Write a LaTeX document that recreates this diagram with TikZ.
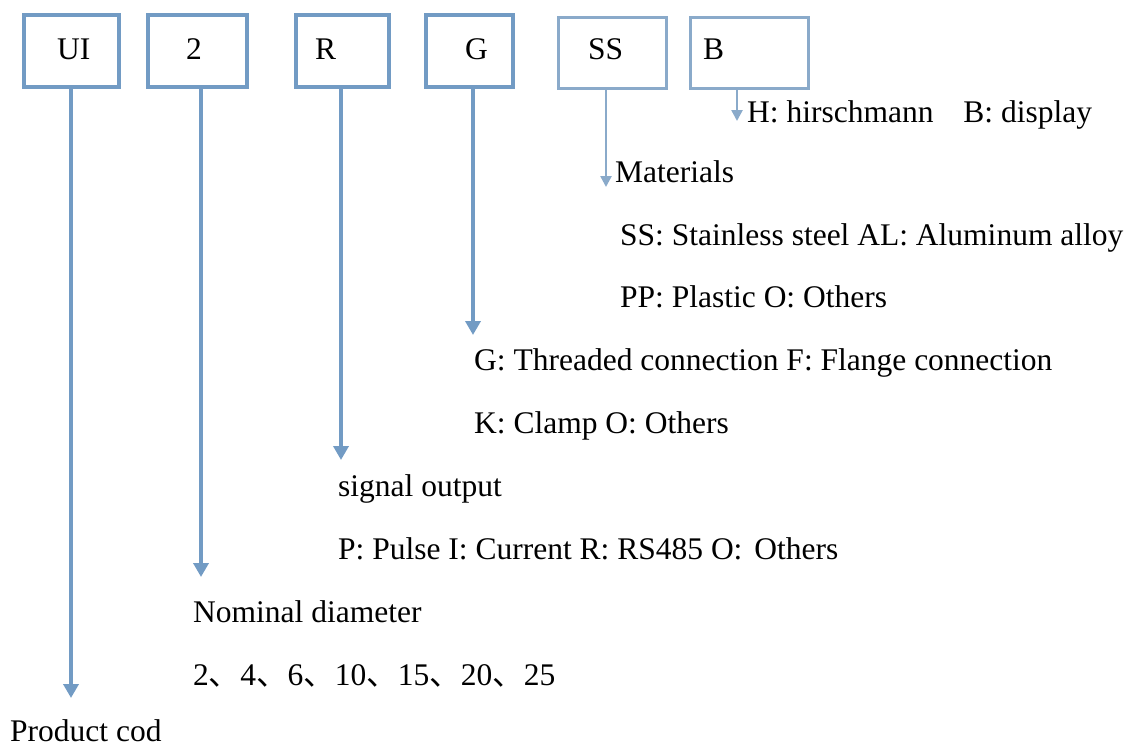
\documentclass[tikz,border=0pt]{standalone}
\usepackage{fontspec}
\setmainfont{Liberation Serif}
\newfontfamily\cjk{Noto Sans CJK SC}
\usetikzlibrary{arrows.meta,positioning}

\definecolor{codeblue}{RGB}{114,155,196}
\definecolor{codelight}{RGB}{138,170,202}

\tikzset{
  codebox/.style={draw=codeblue, line width=4pt, minimum height=72pt},
  lightbox/.style={draw=codelight, line width=3pt, minimum height=71pt},
  flow/.style={codeblue, line width=4pt, -{Triangle[width=15pt,length=14pt]}},
  thinflow/.style={codelight, line width=2.5pt, -{Triangle[width=11pt,length=11pt]}},
  txt/.style={anchor=base west, inner sep=0pt, font=\fontsize{31.5}{36}\selectfont}
}

\begin{document}
\begin{tikzpicture}[x=1pt, y=-1pt]
    \useasboundingbox (0,0) rectangle (1135,747);

    % CODE BOXES
    \node[codebox, minimum width=95pt] (uibox) at (71.5,51) {};
    \node[codebox, minimum width=99pt] (dnbox) at (197.5,51) {};
    \node[codebox, minimum width=93pt] (sigbox) at (342.5,51) {};
    \node[codebox, minimum width=87pt] (conbox) at (469.5,51) {};
    \node[lightbox, minimum width=108pt] (matbox) at (612.5,53) {};
    \node[lightbox, minimum width=118pt] (dispbox) at (749.5,53) {};

    \node[txt] (uitxt) at (57,59) {UI};
    \node[txt] (dntxt) at (186,59) {2};
    \node[txt] (sigtxt) at (315,59) {R};
    \node[txt] (contxt) at (465,59) {G};
    \node[txt] (mattxt) at (588,59) {SS};
    \node[txt] (disptxt) at (703,59) {B};

    % OPTION TEXTS
    \node[txt] (disp) at (747,122) {H: hirschmann\hspace{22pt} B: display};
    \node[txt] (mat) at (615,182) {Materials};
    \node[txt] (matA) at (620,245) {SS: Stainless steel AL: Aluminum alloy};
    \node[txt] (matB) at (620,307) {PP: Plastic O: Others};
    \node[txt] (conA) at (474,370) {G: Threaded connection F: Flange connection};
    \node[txt] (conB) at (474,433) {K: Clamp O: Others};
    \node[txt] (sig) at (338,496) {signal output};
    \node[txt] (sigA) at (338,559) {P: Pulse I: Current R: RS485 O:\hspace{4pt} Others};
    \node[txt] (dn) at (193,622) {Nominal diameter};
    \node[txt] (dnA) at (193,685) {2{\cjk 、}4{\cjk 、}6{\cjk 、}10{\cjk 、}15{\cjk 、}20{\cjk 、}25};
    \node[txt] (prod) at (10,741) {Product cod};

    % ARROW ENDS
    \coordinate (uiend) at (71,698);
    \coordinate (dnend) at (201,577);
    \coordinate (sigend) at (341,460);
    \coordinate (conend) at (473,335);
    \coordinate (matend) at (606,187);
    \coordinate (dispend) at (737,121);

    % ARROWS
    \draw[flow] (uibox.south -| uiend) -- (uiend);
    \draw[flow] (dnbox.south -| dnend) -- (dnend);
    \draw[flow] (sigbox.south -| sigend) -- (sigend);
    \draw[flow] (conbox.south -| conend) -- (conend);
    \draw[thinflow] (matbox.south -| matend) -- (matend);
    \draw[thinflow] (dispbox.south -| dispend) -- (dispend);

\end{tikzpicture}
\end{document}
